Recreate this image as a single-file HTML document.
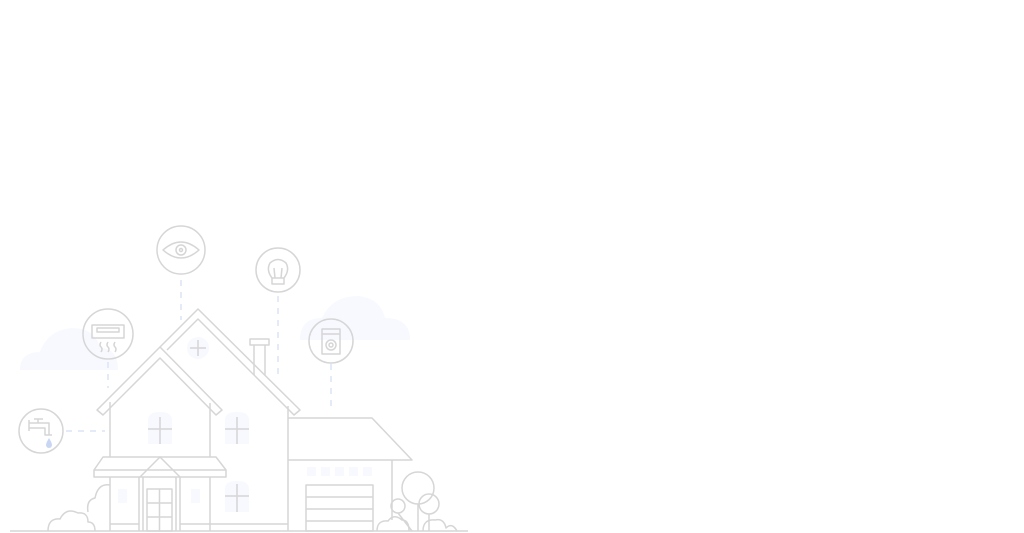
<!DOCTYPE html>
<html><head><meta charset="utf-8"><style>
html,body{margin:0;padding:0;background:#fff;width:1024px;height:533px;overflow:hidden}
</style></head><body>
<svg width="1024" height="533" viewBox="0 0 1024 533" xmlns="http://www.w3.org/2000/svg">
<g fill="#f7f9fe">
 <path d="M20,370 Q20,352 40,352 Q48,330 72,328 Q95,328 100,348 Q118,348 118,370 Z"/>
 <path d="M300,340 Q300,318 322,318 Q332,296 358,296 Q380,298 385,318 Q410,318 410,340 Z"/>
 <path d="M148,420 Q148,412 160,412 Q172,412 172,420 V444 H148Z"/>
 <path d="M225,420 Q225,412 237,412 Q249,412 249,420 V444 H225Z"/>
 <path d="M225,489 Q225,481 237,481 Q249,481 249,489 V512 H225Z"/>
 <circle cx="198" cy="348" r="11"/>
 <rect x="118" y="489" width="9" height="14"/><rect x="191" y="489" width="9" height="14"/>
 <rect x="307" y="467" width="9" height="9"/><rect x="321" y="467" width="9" height="9"/><rect x="335" y="467" width="9" height="9"/><rect x="349" y="467" width="9" height="9"/><rect x="363" y="467" width="9" height="9"/>
</g>
<path d="M49,438 Q46,443 46,445 A3,3 0 0 0 52,445 Q52,443 49,438Z" fill="#c9d6f3"/>
<g stroke="#dce4f6" stroke-width="1.5" stroke-dasharray="6,6" fill="none">
 <line x1="181" y1="280" x2="181" y2="320"/>
 <line x1="108" y1="362" x2="108" y2="388"/>
 <line x1="66" y1="431" x2="105" y2="431"/>
 <line x1="278" y1="296" x2="278" y2="380"/>
 <line x1="331" y1="364" x2="331" y2="410"/>
</g>
<g stroke="#d6d6d6" stroke-width="1.5" fill="none" stroke-linejoin="round">
 <line x1="10" y1="531" x2="468" y2="531"/>
 <circle cx="181" cy="250" r="24"/>
 <path d="M163,250 Q181,234 199,250 Q181,266 163,250Z"/><circle cx="181" cy="250" r="5"/><circle cx="181" cy="250" r="1.5"/>
 <circle cx="108" cy="334" r="25"/>
 <rect x="92" y="325" width="32" height="13"/><rect x="97" y="328" width="22" height="4"/>
 <path d="M101,342 q-2,3 0,5 q2,2 0,5 M108,342 q-2,3 0,5 q2,2 0,5 M115,342 q-2,3 0,5 q2,2 0,5"/>
 <circle cx="41" cy="431" r="22"/>
 <path d="M29,420 V431 M29,423 H49 V435 M29,428 H45 V435 H52 M38,419 V423 M34,419 H43"/>
 <circle cx="278" cy="270" r="22"/>
 <path d="M272,278 Q266,270 270,263 Q278,256 286,263 Q290,270 284,278 Z M272,278 V284 H284 V278 M275,278 L274,268 M281,278 L282,268"/>
 <circle cx="331" cy="341" r="22"/>
 <rect x="322" y="329" width="18" height="25"/><line x1="322" y1="334" x2="340" y2="334"/><circle cx="331" cy="345" r="5"/><circle cx="331" cy="345" r="2"/>
 <path d="M160,347 L198,309 L300,410 L294,415 L198,319 L167,350"/>
 <path d="M97,410 L160,347 L222,410 L216,415 L160,358 L103,415 Z"/>
 <path d="M110,402 V457 M210,403 V457 M288,406 V531"/>
 <path d="M254,375 V345 M265,375 V345 M250,339 H269 V345 H250 Z"/>
 <path d="M103,457 L216,457 L226,470 L94,470 Z M94,470 V477 H226 V470"/>
 <path d="M140,477 L160,457 L180,477"/>
 <path d="M110,477 V531 M210,477 V531 M139,477 V531 M143,477 V531 M176,477 V531 M180,477 V531"/>
 <rect x="147" y="489" width="25" height="42"/><path d="M159.5,489 V531 M147,503 H172 M147,517 H172"/>
 <path d="M110,524 H139 M180,524 H288"/>
 <path d="M148,429 H172 M160,417 V444 M225,429 H249 M237,417 V444 M225,496 H249 M237,484 V512 M190,348 H206 M198,340 V356"/>
 <path d="M288,418 H372 L412,460 H288 M392,460 V520"/>
 <rect x="306" y="485" width="67" height="46"/><path d="M306,497 H373 M306,509 H373 M306,521 H373"/>
 <circle cx="418" cy="488" r="16"/><circle cx="398" cy="506" r="7"/><circle cx="429" cy="504" r="10"/>
 <path d="M418,504 V531 M398,513 L412,531 M429,514 V531"/>
 <path d="M377,531 Q377,520 388,521 Q394,513 402,520 Q409,520 409,531"/>
 <path d="M423,531 Q423,519 435,520 Q444,518 446,528 Q452,522 457,531"/>
 <path d="M48,531 Q48,518 60,519 Q66,507 78,513 Q88,512 88,522 Q95,522 95,531"/>
 <path d="M88,512 Q86,500 95,498 Q98,483 110,485"/>
</g>
</svg>
</body></html>
